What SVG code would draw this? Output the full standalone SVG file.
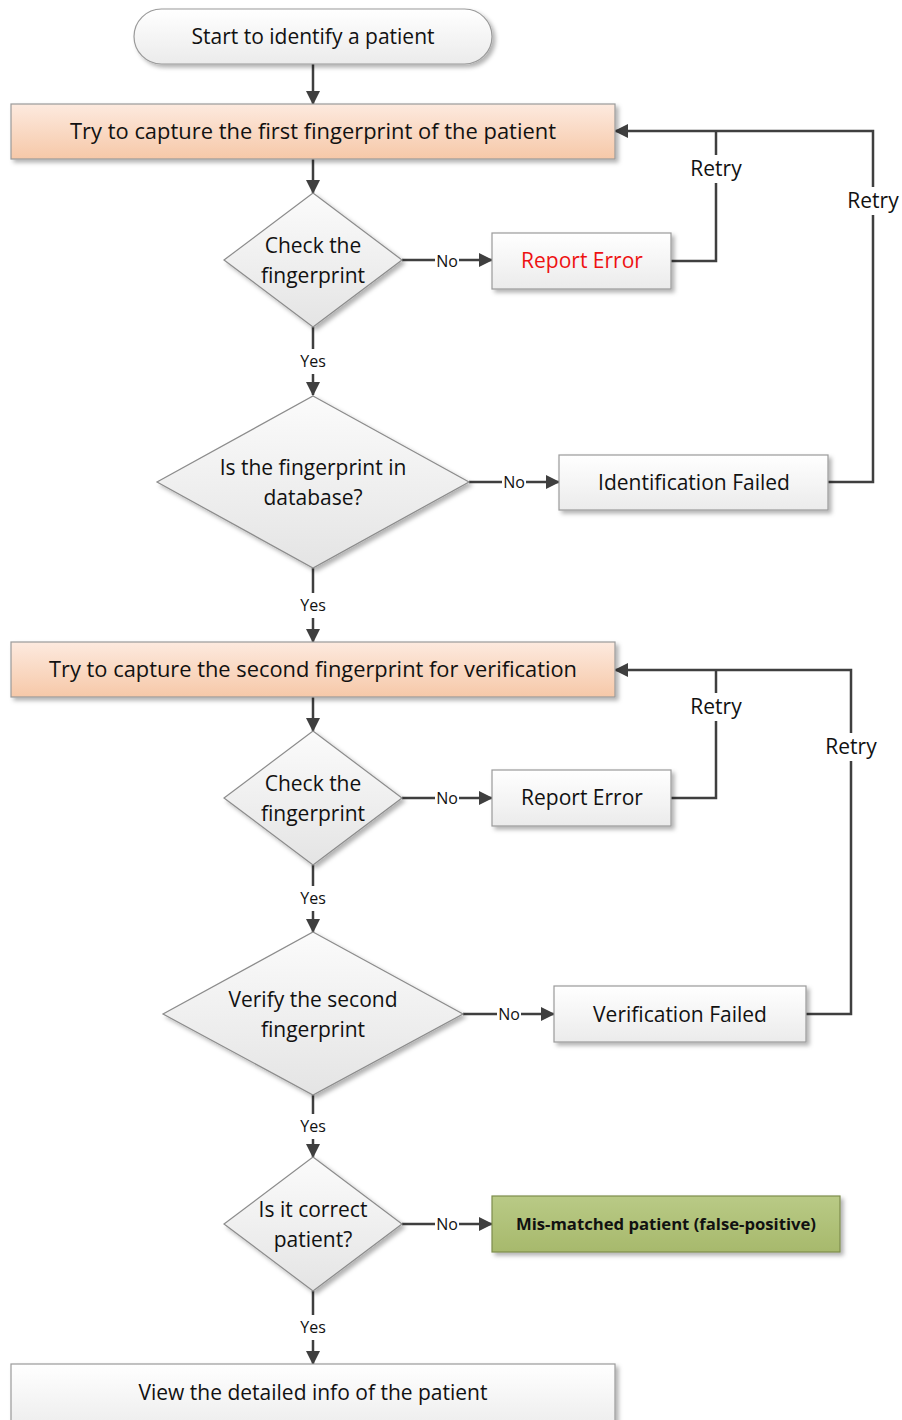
<svg xmlns="http://www.w3.org/2000/svg" width="902" height="1420" viewBox="0 0 902 1420">
<defs>
<linearGradient id="gWhite" x1="0" y1="0" x2="0" y2="1"><stop offset="0" stop-color="#ffffff"/><stop offset="1" stop-color="#ebebeb"/></linearGradient>
<linearGradient id="gDia" x1="0" y1="0" x2="0" y2="1"><stop offset="0" stop-color="#fbfbfb"/><stop offset="1" stop-color="#e4e4e4"/></linearGradient>
<linearGradient id="gPeach" x1="0" y1="0" x2="0" y2="1"><stop offset="0" stop-color="#fdeadf"/><stop offset="1" stop-color="#f6c8a8"/></linearGradient>
<linearGradient id="gGreen" x1="0" y1="0" x2="0" y2="1"><stop offset="0" stop-color="#b9ca86"/><stop offset="1" stop-color="#a7b96c"/></linearGradient>
<filter id="sh" x="-10%" y="-20%" width="130%" height="160%"><feDropShadow dx="3" dy="3" stdDeviation="2" flood-color="#000" flood-opacity="0.3"/></filter>
<marker id="ah" viewBox="0 0 14 14" refX="13" refY="7" markerWidth="14" markerHeight="14" markerUnits="userSpaceOnUse" orient="auto"><path d="M0,0 L14,7 L0,14 Z" fill="#3f3f3f"/></marker>
<style>
.box{stroke:#9a9a9a;stroke-width:1.2;filter:url(#sh)}
.w{fill:url(#gWhite)}
.d{fill:url(#gDia);stroke:#8c8c8c;stroke-width:1.2;filter:url(#sh)}
.p{fill:url(#gPeach)}
.g{fill:url(#gGreen);stroke:#7d8d4d}
.t{font-family:"Open Sans","Liberation Sans",sans-serif;font-size:21px;fill:#111;text-anchor:middle;dominant-baseline:central}
.s{font-family:"Open Sans","Liberation Sans",sans-serif;font-size:16px;fill:#111;text-anchor:middle;dominant-baseline:central}
.c{fill:none;stroke:#3f3f3f;stroke-width:2.5}
.a{marker-end:url(#ah)}
</style>
</defs>
<rect width="902" height="1420" fill="#fff"/>

<g id="connectors">
<path class="c a" d="M313,64 V104"/>
<path class="c a" d="M313,159 V193"/>
<path class="c" d="M402,260 H435"/><path class="c a" d="M459,260 H492"/>
<path class="c" d="M671,261 H716 V183"/><path class="c" d="M716,155 V131"/>
<path class="c" d="M828,482 H873 V215"/><path class="c a" d="M873,187 V131 H615"/>
<path class="c" d="M313,327 V349"/><path class="c a" d="M313,374 V395"/>
<path class="c" d="M469,482 H502"/><path class="c a" d="M526,482 H559"/>
<path class="c" d="M313,568 V593"/><path class="c a" d="M313,618 V642"/>
<path class="c a" d="M313,697 V731"/>
<path class="c" d="M402,798 H435"/><path class="c a" d="M459,798 H492"/>
<path class="c" d="M671,798 H716 V721"/><path class="c" d="M716,693 V670"/>
<path class="c" d="M806,1014 H851 V761"/><path class="c a" d="M851,733 V670 H615"/>
<path class="c" d="M313,865 V886"/><path class="c a" d="M313,911 V932"/>
<path class="c" d="M463,1014 H497"/><path class="c a" d="M521,1014 H554"/>
<path class="c" d="M313,1095 V1114"/><path class="c a" d="M313,1139 V1157"/>
<path class="c" d="M402,1224 H435"/><path class="c a" d="M459,1224 H492"/>
<path class="c" d="M313,1291 V1315"/><path class="c a" d="M313,1340 V1364"/>
<text class="s" x="447" y="261">No</text>
<text class="t" x="716" y="168">Retry</text>
<text class="t" x="873" y="200">Retry</text>
<text class="s" x="313" y="361">Yes</text>
<text class="s" x="514" y="482">No</text>
<text class="s" x="313" y="605">Yes</text>
<text class="s" x="447" y="798">No</text>
<text class="t" x="716" y="706">Retry</text>
<text class="t" x="851" y="746">Retry</text>
<text class="s" x="313" y="898">Yes</text>
<text class="s" x="509" y="1014">No</text>
<text class="s" x="313" y="1126">Yes</text>
<text class="s" x="447" y="1224">No</text>
<text class="s" x="313" y="1327">Yes</text>
</g>

<g id="start"><rect class="box w" x="134" y="9" width="358" height="55" rx="27.5"/><text class="t" x="313" y="36">Start to identify a patient</text></g>
<g id="capture1"><rect class="box p" x="11" y="104" width="604" height="55"/><text class="t" x="313" y="131" textLength="486" lengthAdjust="spacingAndGlyphs">Try to capture the first fingerprint of the patient</text></g>
<g id="check1"><polygon class="d" points="313,193 402,260 313,327 224,260"/><text class="t" x="313" y="245">Check the</text><text class="t" x="313" y="275">fingerprint</text></g>
<g id="error1"><rect class="box w" x="492" y="233" width="179" height="56"/><text class="t" x="582" y="260" style="fill:#ee1111">Report Error</text></g>
<g id="indb"><polygon class="d" points="313,396 469,482 313,568 157,482"/><text class="t" x="313" y="467">Is the fingerprint in</text><text class="t" x="313" y="497">database?</text></g>
<g id="idfail"><rect class="box w" x="559" y="455" width="269" height="55"/><text class="t" x="694" y="482">Identification Failed</text></g>
<g id="capture2"><rect class="box p" x="11" y="642" width="604" height="55"/><text class="t" x="313" y="669" textLength="528" lengthAdjust="spacingAndGlyphs">Try to capture the second fingerprint for verification</text></g>
<g id="check2"><polygon class="d" points="313,731 402,798 313,865 224,798"/><text class="t" x="313" y="783">Check the</text><text class="t" x="313" y="813">fingerprint</text></g>
<g id="error2"><rect class="box w" x="492" y="770" width="179" height="56"/><text class="t" x="582" y="797">Report Error</text></g>
<g id="verify"><polygon class="d" points="313,932 463,1014 313,1095 163,1014"/><text class="t" x="313" y="999">Verify the second</text><text class="t" x="313" y="1029">fingerprint</text></g>
<g id="verfail"><rect class="box w" x="554" y="986" width="252" height="56"/><text class="t" x="680" y="1014">Verification Failed</text></g>
<g id="correct"><polygon class="d" points="313,1157 402,1224 313,1291 224,1224"/><text class="t" x="313" y="1209">Is it correct</text><text class="t" x="313" y="1239">patient?</text></g>
<g id="mismatch"><rect class="box g" x="492" y="1196" width="348" height="56"/><text class="t" x="666" y="1224" style="font-size:16px;font-weight:bold" textLength="300" lengthAdjust="spacingAndGlyphs">Mis-matched patient (false-positive)</text></g>
<g id="view"><rect class="box w" x="11" y="1364" width="604" height="70"/><text class="t" x="313" y="1392">View the detailed info of the patient</text></g>
</svg>
